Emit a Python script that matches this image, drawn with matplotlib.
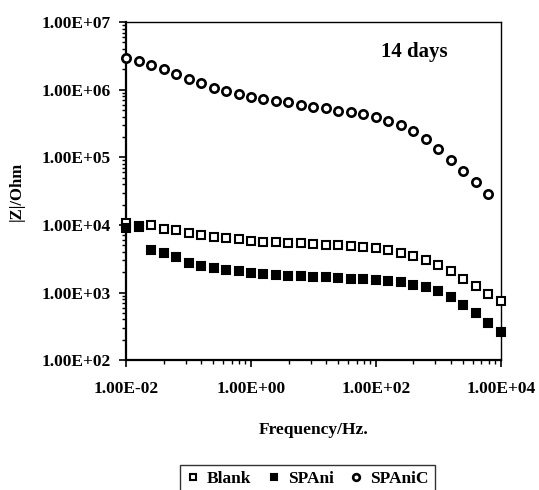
#!/usr/bin/env python3
"""Bode modulus plot, 14 days immersion: Blank vs SPAni vs SPAniC."""
import matplotlib
matplotlib.use("Agg")
import matplotlib.pyplot as plt
from matplotlib.ticker import FixedLocator, FuncFormatter, LogLocator, NullFormatter
import numpy as np

plt.rcParams["font.family"] = ["Liberation Serif", "DejaVu Serif"]
plt.rcParams["font.weight"] = "bold"

# frequency sweep (Hz), 5 points per decade
freq = [1.00e-02, 1.58e-02, 2.51e-02, 3.98e-02, 6.31e-02,
        1.00e-01, 1.58e-01, 2.51e-01, 3.98e-01, 6.31e-01,
        1.00e+00, 1.58e+00, 2.51e+00, 3.98e+00, 6.31e+00,
        1.00e+01, 1.58e+01, 2.51e+01, 3.98e+01, 6.31e+01,
        1.00e+02, 1.58e+02, 2.51e+02, 3.98e+02, 6.31e+02,
        1.00e+03, 1.58e+03, 2.51e+03, 3.98e+03, 6.31e+03,
        1.00e+04]

blank = [1.06e4, 9.8e3, 1.01e4, 8.6e3, 8.3e3, 7.7e3, 7.0e3, 6.6e3, 6.3e3, 6.1e3,
         5.8e3, 5.6e3, 5.5e3, 5.45e3, 5.45e3, 5.3e3, 5.1e3, 4.97e3, 4.85e3, 4.7e3,
         4.5e3, 4.3e3, 3.87e3, 3.5e3, 3.0e3, 2.54e3, 2.07e3, 1.61e3, 1.26e3, 9.45e2,
         7.4e2]

spani = [8.97e3, 9.4e3, 4.3e3, 3.8e3, 3.3e3, 2.69e3, 2.45e3, 2.27e3, 2.12e3, 2.05e3,
         1.96e3, 1.87e3, 1.79e3, 1.75e3, 1.73e3, 1.71e3, 1.69e3, 1.63e3, 1.61e3, 1.57e3,
         1.54e3, 1.49e3, 1.41e3, 1.30e3, 1.20e3, 1.04e3, 8.6e2, 6.6e2, 4.9e2, 3.6e2,
         2.6e2]

# SPAniC stops at 6.31 kHz
spanic = [2.96e6, 2.70e6, 2.31e6, 2.01e6, 1.70e6, 1.43e6, 1.24e6, 1.06e6, 9.4e5, 8.6e5,
          7.9e5, 7.3e5, 6.9e5, 6.5e5, 6.0e5, 5.6e5, 5.3e5, 4.9e5, 4.6e5, 4.3e5,
          3.9e5, 3.5e5, 2.98e5, 2.45e5, 1.87e5, 1.33e5, 9.2e4, 6.3e4, 4.3e4, 2.86e4]

x_major = [1e-2, 1e0, 1e2, 1e4]
y_lim = (1e2, 1e7)


def sci_label(v, pos):
    # Excel style "1.00E+04"
    m, e = f"{v:.2E}".split("E")
    return f"{m}E{int(e):+03d}"


fig = plt.figure(figsize=(5.39, 4.90), dpi=100)
ax = fig.add_axes([0.234, 0.265, 0.695, 0.690])

ms = 6.0
ax.plot(freq, blank, ls="none", marker="s", ms=ms, mfc="white", mec="black",
        mew=1.5, clip_on=False, label="Blank", zorder=3)
ax.plot(freq, spani, ls="none", marker="s", ms=ms, mfc="black", mec="black",
        mew=1.5, clip_on=False, label="SPAni", zorder=3)
ax.plot(freq[:len(spanic)], spanic, ls="none", marker="o", ms=ms, mfc="white",
        mec="black", mew=1.9, clip_on=False, label="SPAniC", zorder=3)

ax.set_xscale("log")
ax.set_yscale("log")
ax.set_xlim(x_major[0], x_major[-1])
ax.set_ylim(*y_lim)

# x axis in base-100 steps (as the spreadsheet did), minor ticks within each step
ax.xaxis.set_major_locator(FixedLocator(x_major))
x_minor = [lo * k ** 2 for lo in x_major[:-1] for k in range(2, 10)]
ax.xaxis.set_minor_locator(FixedLocator(x_minor))
ax.xaxis.set_major_formatter(FuncFormatter(sci_label))
ax.xaxis.set_minor_formatter(NullFormatter())

ax.yaxis.set_major_locator(LogLocator(base=10, numticks=10))
ax.yaxis.set_minor_locator(LogLocator(base=10, subs=np.arange(2, 10), numticks=10))
ax.yaxis.set_major_formatter(FuncFormatter(sci_label))
ax.yaxis.set_minor_formatter(NullFormatter())

ax.tick_params(which="major", direction="out", length=5, width=1.2,
               labelsize=12.5, pad=6)
ax.tick_params(which="minor", direction="out", length=3, width=1.0)
ax.tick_params(axis="x", pad=10)
for lab in ax.get_xticklabels() + ax.get_yticklabels():
    lab.set_fontweight("bold")

for s in ("left", "bottom"):
    ax.spines[s].set_linewidth(1.6)
for s in ("top", "right"):
    ax.spines[s].set_linewidth(1.0)

ax.set_xlabel("Frequency/Hz.", fontsize=12.5, fontweight="bold", labelpad=18)
ax.set_ylabel("|Z|/Ohm", fontsize=12, fontweight="bold", labelpad=12)
ax.text(0.68, 0.91, "14 days", transform=ax.transAxes, fontsize=15,
        fontweight="bold", ha="left", va="center")

leg = fig.legend(loc="lower center", bbox_to_anchor=(0.570, -0.025), ncol=3,
                 frameon=True, fancybox=False, edgecolor="black",
                 prop={"size": 12.5, "weight": "bold"}, handlelength=0.8,
                 handletextpad=0.4, columnspacing=0.9, borderpad=0.35,
                 markerscale=0.8)
leg.get_frame().set_linewidth(1.0)

fig.savefig("out.png", dpi=100)
